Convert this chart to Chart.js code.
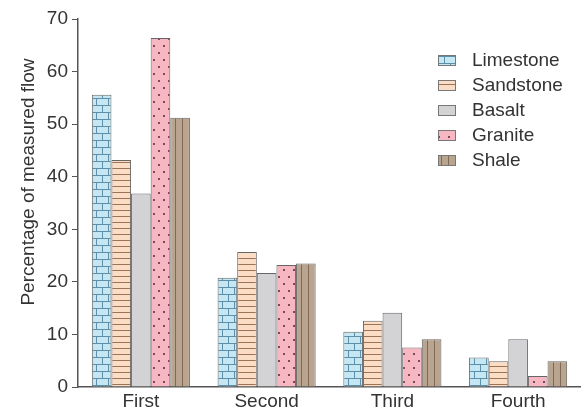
<!DOCTYPE html>
<html>
<head>
<meta charset="utf-8">
<script src="https://cdn.jsdelivr.net/npm/chart.js@4/dist/chart.umd.min.js"></script>
<style>
  html, body { margin: 0; padding: 0; background: #fff; }
  #wrap { width: 581px; height: 412px; position: relative; }
</style>
</head>
<body>
<div id="wrap"><canvas id="flowChart"></canvas></div>
<script>
// data
const categories = ['First', 'Second', 'Third', 'Fourth'];
const limestone = [55.6, 20.8, 10.5, 5.6];
const sandstone = [43.2, 25.7, 12.6, 4.9];
const basalt = [36.8, 21.7, 14.1, 9.1];
const granite = [66.4, 23.2, 7.5, 2.1];
const shale = [51.2, 23.5, 9.1, 4.9];
const yTicks = [0, 10, 20, 30, 40, 50, 60, 70];
const yTitle = 'Percentage of measured flow';

const FONT = '"Liberation Sans", Arial, sans-serif';

// small tiles for the hatch fills
function makePattern(w, h, bg, draw) {
  const c = document.createElement('canvas');
  c.width = w; c.height = h;
  const g = c.getContext('2d');
  g.fillStyle = bg;
  g.fillRect(0, 0, w, h);
  draw(g);
  return g.createPattern(c, 'repeat');
}

const brick = makePattern(12, 14, '#c4e7f3', g => {
  g.strokeStyle = '#5d8fa8';
  g.lineWidth = 1;
  g.beginPath();
  g.moveTo(0, 0.5); g.lineTo(12, 0.5);
  g.moveTo(0, 7.5); g.lineTo(12, 7.5);
  g.moveTo(0.5, 0); g.lineTo(0.5, 7);
  g.moveTo(6.5, 7); g.lineTo(6.5, 14);
  g.stroke();
});

const hlines = makePattern(8, 6, '#fbdcc4', g => {
  g.strokeStyle = '#9b7458';
  g.lineWidth = 1;
  g.beginPath();
  g.moveTo(0, 0.5); g.lineTo(8, 0.5);
  g.stroke();
});

const dots = makePattern(10, 14, '#f6b7c3', g => {
  g.fillStyle = '#7a4a55';
  g.fillRect(3, 3, 2, 2);
  g.fillRect(8, 10, 2, 2);
});

const vlines = makePattern(7, 8, '#b9a48f', g => {
  g.strokeStyle = '#7f6a57';
  g.lineWidth = 1;
  g.beginPath();
  g.moveTo(0.5, 0); g.lineTo(0.5, 8);
  g.stroke();
});

const series = [
  { label: 'Limestone', data: limestone, fill: brick },
  { label: 'Sandstone', data: sandstone, fill: hlines },
  { label: 'Basalt', data: basalt, fill: '#d3d3d6' },
  { label: 'Granite', data: granite, fill: dots },
  { label: 'Shale', data: shale, fill: vlines }
];

// legend inside the plot (top right) + y title placed a bit above centre
const extras = {
  id: 'extras',
  afterDatasetsDraw(chart) {
    const ctx = chart.ctx;
    ctx.save();
    ctx.font = '19px ' + FONT;
    ctx.textBaseline = 'middle';
    chart.data.datasets.forEach((ds, i) => {
      const y = 60 + i * 25;
      ctx.fillStyle = ds.backgroundColor;
      ctx.fillRect(438, y - 5, 18, 11);
      ctx.strokeStyle = '#777';
      ctx.lineWidth = 1;
      ctx.strokeRect(438.5, y - 4.5, 17, 10);
      ctx.fillStyle = '#333';
      ctx.fillText(ds.label, 472, y + 1);
    });

    ctx.translate(34, 182);
    ctx.rotate(-Math.PI / 2);
    ctx.textAlign = 'center';
    ctx.textBaseline = 'alphabetic';
    ctx.fillText(yTitle, 0, 0);
    ctx.restore();
  }
};

new Chart(document.getElementById('flowChart'), {
  type: 'bar',
  data: {
    labels: categories,
    datasets: series.map(s => ({
      label: s.label,
      data: s.data,
      backgroundColor: s.fill,
      borderColor: '#666',
      borderWidth: 1,
      categoryPercentage: 0.78,
      barPercentage: 1
    }))
  },
  options: {
    responsive: true,
    maintainAspectRatio: false,
    animation: false,
    layout: { padding: { top: 19, right: 0, left: 0, bottom: 0 } },
    plugins: { legend: { display: false }, tooltip: { enabled: false } },
    scales: {
      x: {
        grid: { display: false, drawTicks: false },
        border: { color: '#555', width: 1.5 },
        ticks: { color: '#333', font: { size: 19, family: FONT }, padding: 3 },
        afterFit: s => { s.height = 25; }
      },
      y: {
        min: 0,
        max: 70,
        afterBuildTicks: s => { s.ticks = yTicks.map(v => ({ value: v })); },
        grid: { drawOnChartArea: false, tickLength: 6, color: '#555' },
        border: { color: '#555', width: 1.5 },
        ticks: { color: '#333', font: { size: 19, family: FONT }, padding: 4 },
        afterFit: s => { s.width = 78; }
      }
    }
  },
  plugins: [extras]
});
</script>
</body>
</html>
